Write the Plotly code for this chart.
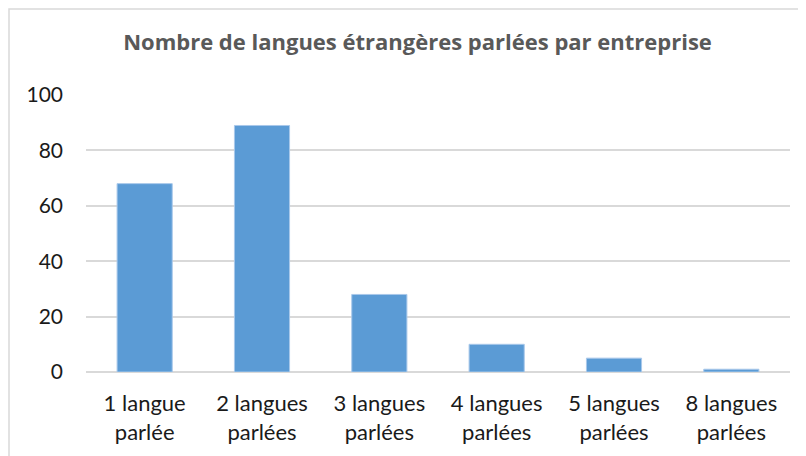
import plotly.graph_objects as go

categories = ["1 langue<br>parlée", "2 langues<br>parlées", "3 langues<br>parlées",
              "4 langues<br>parlées", "5 langues<br>parlées", "8 langues<br>parlées"]
values = [68, 89, 28, 10, 5, 1]
y_ticks = [0, 20, 40, 60, 80, 100]

FONT = "Lato"
W, H = 798, 448
L, R, T, B = 78, 16, 87, 84
PW, PH = W - L - R, H - T - B

fig = go.Figure(go.Bar(
    x=categories, y=values,
    marker=dict(color="#5B9BD5", line=dict(color="#A9C8EA", width=1)),
))

fig.update_layout(
    width=W, height=H,
    margin=dict(l=L, r=R, t=T, b=B),
    paper_bgcolor="white", plot_bgcolor="white",
    bargap=0.53,
    showlegend=False,
    title=dict(text="<b>Nombre de langues étrangères parlées par entreprise</b>",
               x=409.5 / W, xanchor="center", y=1 - 34 / H, yanchor="middle",
               font=dict(family="Open Sans", size=22, color="#595959")),
    font=dict(family=FONT, size=21, color="#1a1a1a"),
    xaxis=dict(showgrid=False, showline=False, ticks="", ticklabelstandoff=16,
               tickfont=dict(family=FONT, size=22, color="#1a1a1a")),
    yaxis=dict(range=[0, 100], tickvals=y_ticks, showgrid=True, gridcolor="#D9D9D9",
               gridwidth=1.5, zeroline=True, zerolinecolor="#D9D9D9", zerolinewidth=1.5,
               ticks="", ticklabelstandoff=22,
               tickfont=dict(family=FONT, size=21, color="#1a1a1a")),
    shapes=[dict(type="rect", xref="paper", yref="paper",
                 x0=-(L - 1) / PW, x1=1 + (R + 20) / PW, y0=-1, y1=1 + (T - 1) / PH,
                 line=dict(color="#D9D9D9", width=1.5), fillcolor="rgba(0,0,0,0)", layer="below")],
)

fig.write_html("out.html")
